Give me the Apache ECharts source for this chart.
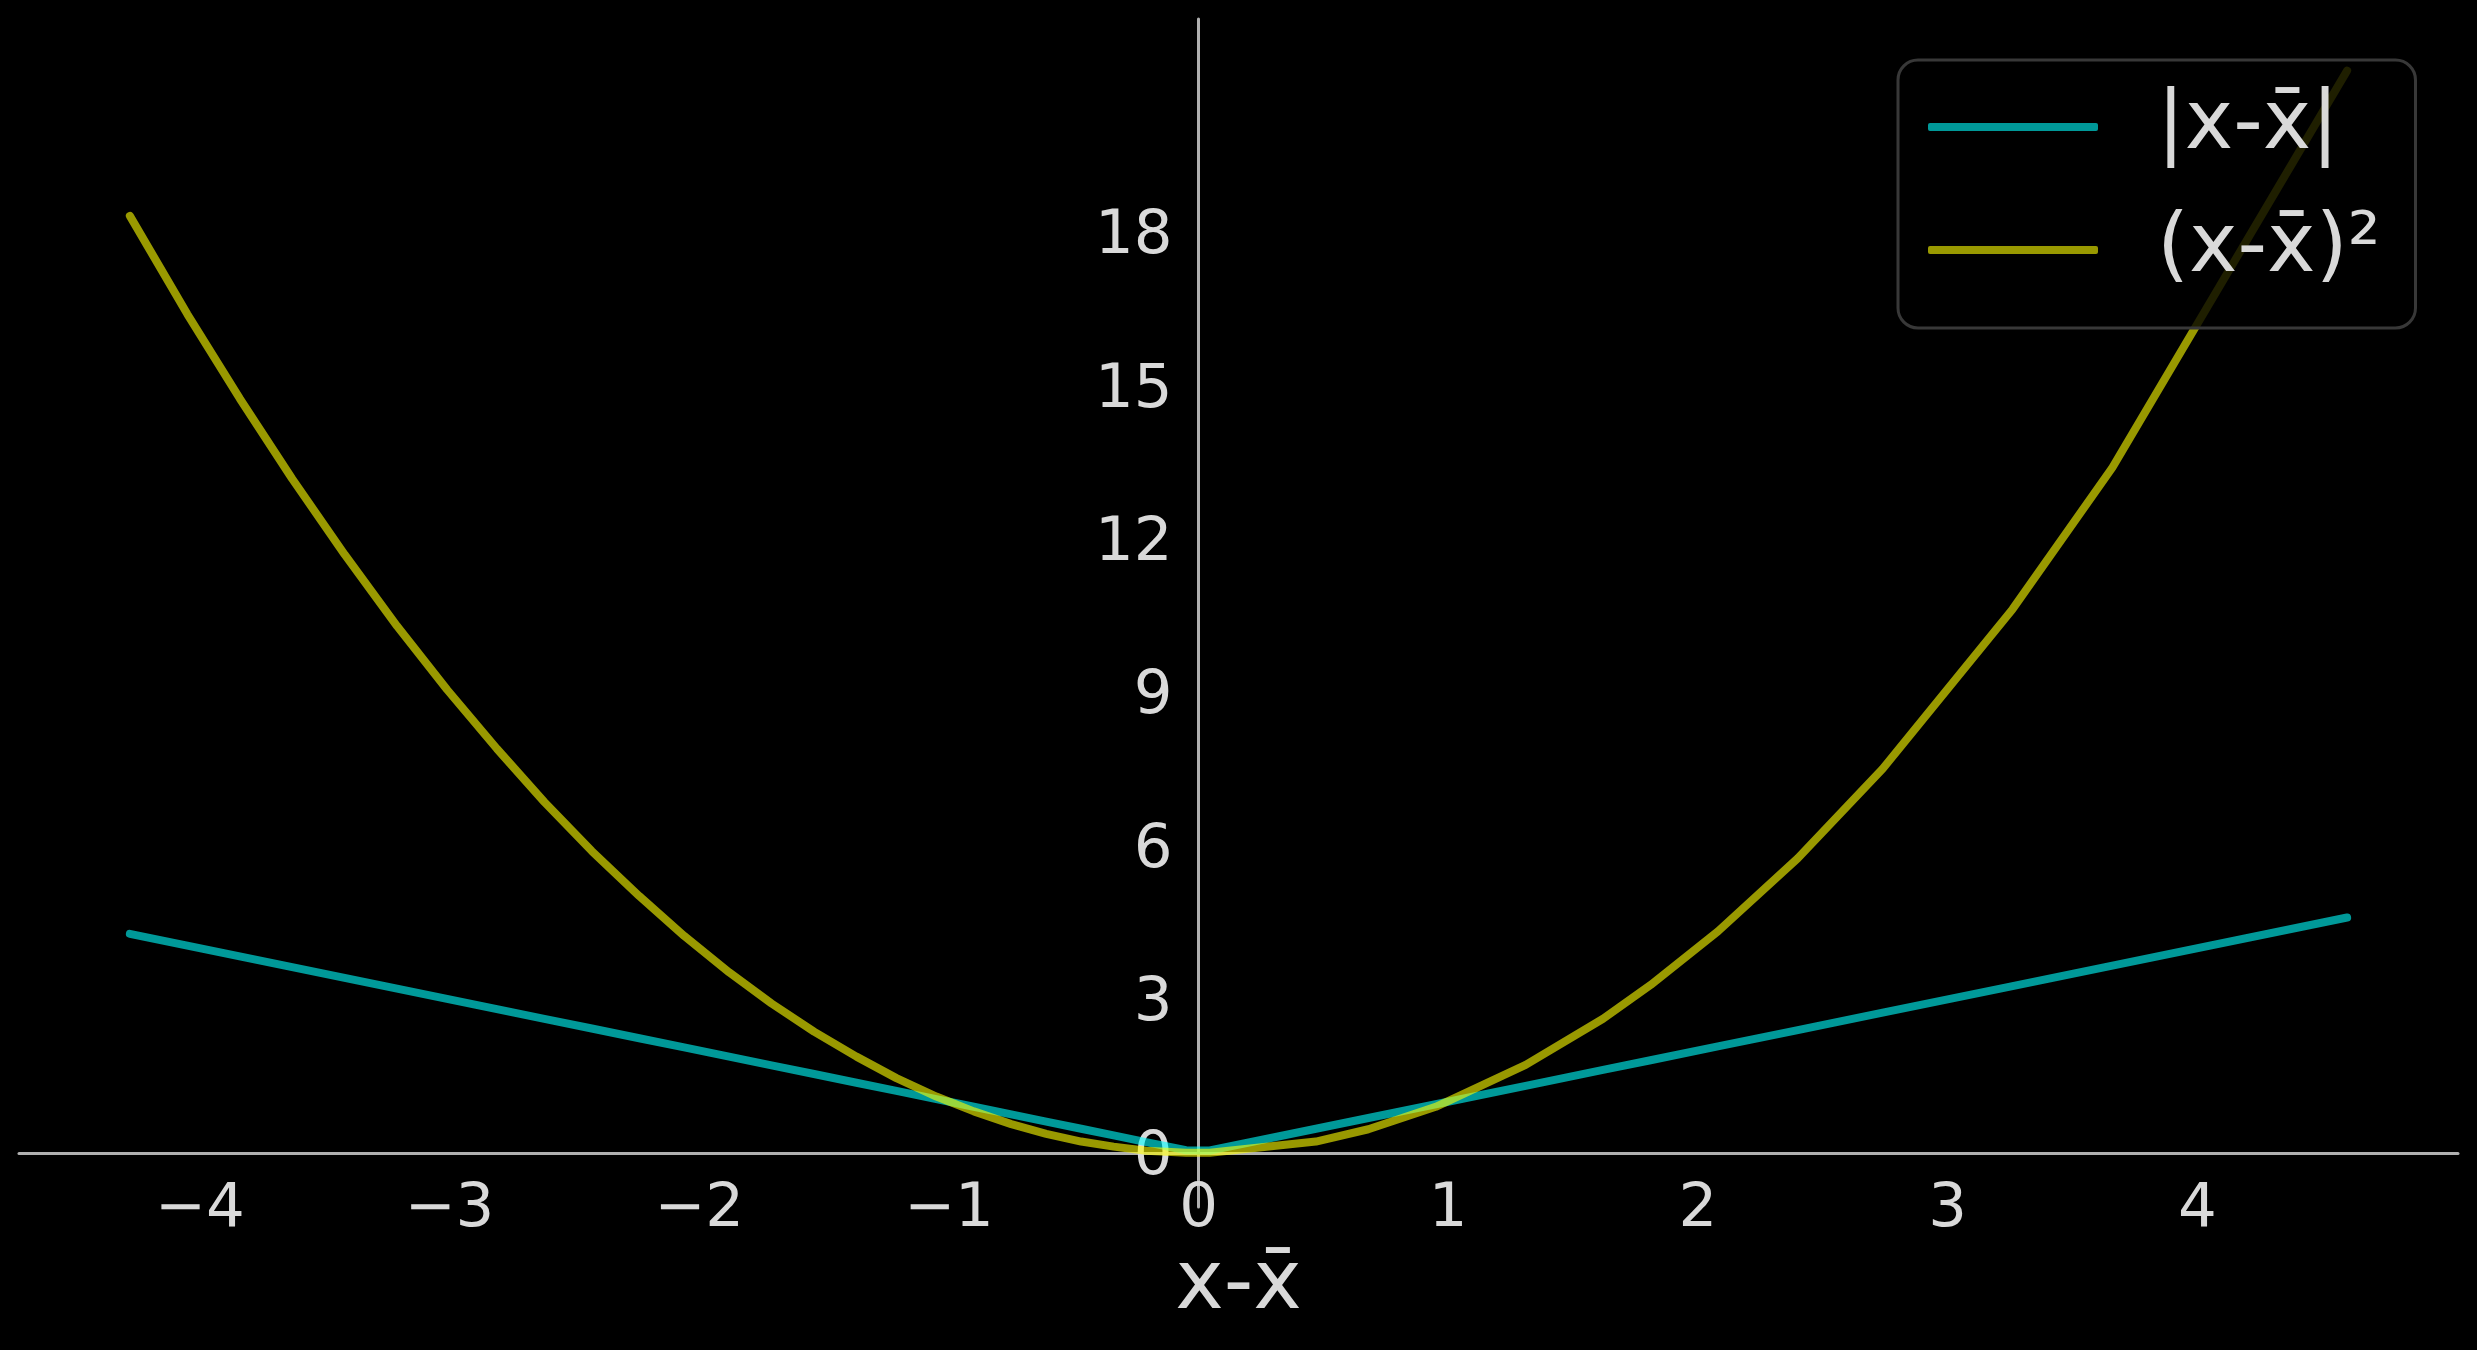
<!DOCTYPE html>
<html>
<head>
<meta charset="utf-8">
<script src="https://cdn.jsdelivr.net/npm/echarts@6/dist/echarts.min.js"></script>
<style>
html,body{margin:0;padding:0;background:#000;}
#chart{width:2477px;height:1350px;}
</style>
</head>
<body>
<div id="chart"></div>
<script>
// deviations from the mean (x - x̄)
const dev = [-4.28, -4.05, -3.84, -3.63, -3.42, -3.21, -3.01, -2.81, -2.62, -2.43, -2.24, -2.06, -1.88, -1.71, -1.54, -1.37, -1.21, -1.05, -0.90, -0.75, -0.61, -0.47, -0.34, -0.21, -0.05,
             0.045, 0.47, 0.68, 0.95, 1.31, 1.62, 1.81, 2.08, 2.40, 2.74, 3.26, 3.66, 4.60];
// |x - x̄|
const absDev = [4.28, 4.05, 3.84, 3.63, 3.42, 3.21, 3.01, 2.81, 2.62, 2.43, 2.24, 2.06, 1.88, 1.71, 1.54, 1.37, 1.21, 1.05, 0.90, 0.75, 0.61, 0.47, 0.34, 0.21, 0.05,
                0.045, 0.47, 0.68, 0.95, 1.31, 1.62, 1.81, 2.08, 2.40, 2.74, 3.26, 3.66, 4.60];
// (x - x̄)²
const sqDev = [18.32, 16.40, 14.75, 13.18, 11.70, 10.30, 9.06, 7.90, 6.86, 5.90, 5.02, 4.24, 3.53, 2.92, 2.37, 1.88, 1.46, 1.10, 0.81, 0.56, 0.37, 0.22, 0.12, 0.04, 0.0025,
               0.002, 0.22, 0.46, 0.90, 1.72, 2.62, 3.28, 4.33, 5.76, 7.51, 10.63, 13.40, 21.16];
const seriesNames = ['|x-x\u0304|', '(x-x\u0304)\u00b2'];
const xTicks = [-4, -3, -2, -1, 0, 1, 2, 3, 4];
const yTicks = [0, 3, 6, 9, 12, 15, 18];
const xLabel = 'x-x\u0304';

const FONT = 'DejaVu Sans';
const TXT = '#d9d9d9';
const AX = '#b0b0b0';
const C1 = 'rgba(0,255,255,0.6)';
const C2 = 'rgba(255,255,0,0.6)';

const W = 2477, H = 1350;
const G = {left: 19, right: 19, top: 19, bottom: 143};
const X_MIN = -4.724, X_MAX = 5.044, Y_MIN = -1.06, Y_MAX = 22.17;
const gw = W - G.left - G.right, gh = H - G.top - G.bottom;
// axes cross at the origin: shift each axis from the grid edge to zero
const yAxisShift = (0 - X_MIN) / (X_MAX - X_MIN) * gw;
const xAxisShift = (0 - Y_MIN) / (Y_MAX - Y_MIN) * gh;

const chart = echarts.init(document.getElementById('chart'), null, {renderer: 'canvas'});
chart.setOption({
  backgroundColor: '#000000',
  animation: false,
  grid: Object.assign({containLabel: false, outerBoundsMode: 'none'}, G),
  legend: {
    orient: 'vertical',
    left: 1898, top: 60,
    padding: [26, 35, 37, 30],
    itemGap: 41,
    itemWidth: 170, itemHeight: 8,
    icon: 'roundRect',
    backgroundColor: 'rgba(0,0,0,0.8)',
    borderColor: '#383838', borderWidth: 3, borderRadius: 20,
    textStyle: {color: TXT, fontSize: 82, fontFamily: FONT, padding: [0, 0, 0, 54]},
    data: seriesNames
  },
  xAxis: {
    type: 'value', min: X_MIN, max: X_MAX,
    offset: -xAxisShift,
    name: xLabel, nameLocation: 'middle', nameGap: 92,
    nameTextStyle: {color: TXT, fontSize: 82, fontFamily: FONT},
    axisLine: {onZero: false, lineStyle: {color: AX, width: 3}},
    axisTick: {show: false},
    splitLine: {show: false},
    axisLabel: {
      customValues: xTicks, color: TXT, fontSize: 61, fontFamily: FONT, margin: 27,
      formatter: v => (v < 0 ? '\u2212' + Math.abs(v) : String(v))
    }
  },
  yAxis: {
    type: 'value', min: Y_MIN, max: Y_MAX,
    offset: -yAxisShift,
    axisLine: {onZero: false, lineStyle: {color: AX, width: 3}},
    axisTick: {show: false},
    splitLine: {show: false},
    axisLabel: {
      customValues: yTicks, color: TXT, fontSize: 61, fontFamily: FONT, margin: 26,
      formatter: v => '{a|' + v + '}',
      rich: {a: {color: TXT, fontSize: 61, fontFamily: FONT, padding: [10, 0, 0, 0]}}
    }
  },
  series: [
    {
      name: seriesNames[0], type: 'line', symbol: 'none', color: C1,
      lineStyle: {color: C1, width: 8, cap: 'round', join: 'round'},
      data: dev.map((x, i) => [x, absDev[i]])
    },
    {
      name: seriesNames[1], type: 'line', symbol: 'none', color: C2,
      lineStyle: {color: C2, width: 8, cap: 'round', join: 'round'},
      data: dev.map((x, i) => [x, sqDev[i]])
    }
  ]
});
</script>
</body>
</html>
